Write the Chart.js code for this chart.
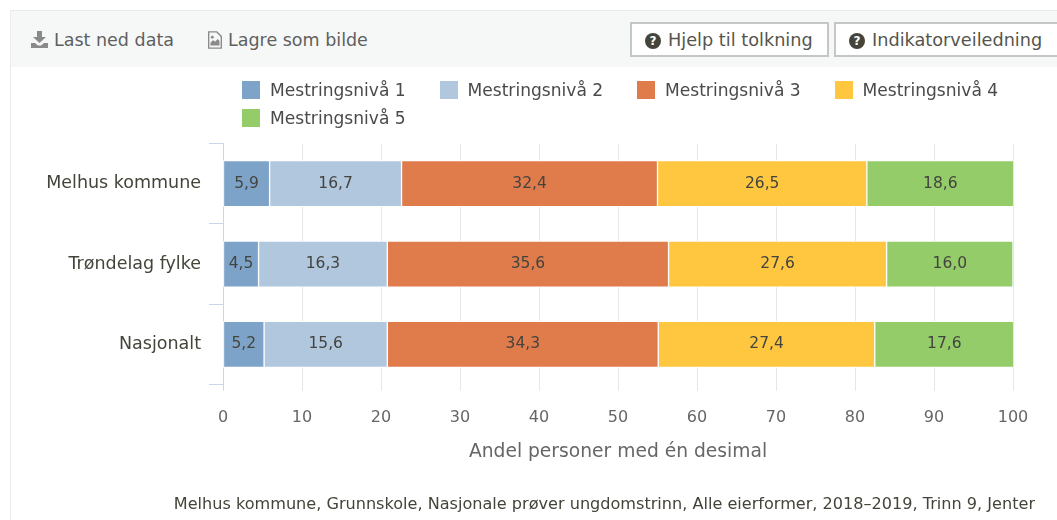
<!DOCTYPE html>
<html>
<head>
<meta charset="utf-8">
<script src="https://cdn.jsdelivr.net/npm/chart.js@4"></script>
<style>
  html, body { margin: 0; padding: 0; background: #fff; overflow: hidden; }
  body { width: 1057px; height: 520px; position: relative; font-family: "DejaVu Sans", sans-serif; }
  #panel { position: absolute; left: 10px; top: 10px; right: -2px; bottom: -2px; border: 1px solid #e9eceb; }
  #toolbar { position: absolute; left: 11px; top: 11px; width: 1046px; height: 56px; background: #f6f8f7; }
  .link { position: absolute; top: 19px; font-size: 17.500px; line-height: 20px; color: #5f5f5f; white-space: nowrap; }
  .link svg { position: absolute; top: 1px; }
  .btn { position: absolute; top: 11px; height: 35px; box-sizing: border-box; border: 2px solid #c3c7c5; background: #fff;
         font-size: 17.700px; line-height: 33px; color: #55554c; white-space: nowrap; }
  .q { position: absolute; left: 13px; top: 9px; width: 16px; height: 16px; border-radius: 50%; background: #44443a; color: #fff;
       font-size: 12px; font-weight: bold; line-height: 16px; text-align: center; }
  .btn span.t { position: absolute; left: 36px; top: 0; }
  #wrap { position: absolute; left: 25px; top: 67px; width: 1010px; height: 453px; }
  #legend { position: absolute; left: 242px; top: 76px; display: grid; grid-template-columns: repeat(4, 197.500px); grid-auto-rows: 28px; }
  #legend div { font-size: 17.100px; line-height: 28px; color: #4a4a4a; white-space: nowrap; position: relative; padding-left: 28px; }
  #legend i { position: absolute; left: 0; top: 5px; width: 18px; height: 18px; }
</style>
</head>
<body>
<div id="panel"></div>
<div id="toolbar">
  <div class="link" style="left:19px">
    <svg width="20" height="18" viewBox="0 0 20 18" style="left:0"><path fill="#8a8a8a" d="M7 0h5v6h4l-6.500 6L3 6h4zM1 12h4l3 2.500h3l3-2.500h4v5H1z"/></svg>
    <span style="margin-left:24px">Last ned data</span>
  </div>
  <div class="link" style="left:195px">
    <svg width="18" height="18" viewBox="0 0 18 20" style="left:0"><path fill="none" stroke="#8a8a8a" stroke-width="1.500" d="M2 1h9l5 5v13H2z"/><path fill="#8a8a8a" d="M4 16v-3l3-3 2 2 3-3 2 2v5z"/><circle cx="6" cy="7" r="1.600" fill="#8a8a8a"/></svg>
    <span style="margin-left:22px">Lagre som bilde</span>
  </div>
  <div class="btn" style="left:619px;width:199px"><div class="q">?</div><span class="t">Hjelp til tolkning</span></div>
  <div class="btn" style="left:823px;width:226px"><div class="q">?</div><span class="t">Indikatorveiledning</span></div>
</div>
<div id="wrap"><canvas id="chart"></canvas></div>
<div id="legend"></div>
<script>
const categories = ['Melhus kommune', 'Trøndelag fylke', 'Nasjonalt'];
const niva1 = [5.9, 4.5, 5.2];
const niva2 = [16.7, 16.3, 15.6];
const niva3 = [32.4, 35.6, 34.3];
const niva4 = [26.5, 27.6, 27.4];
const niva5 = [18.6, 16.0, 17.6];
const seriesNames = ['Mestringsnivå 1', 'Mestringsnivå 2', 'Mestringsnivå 3', 'Mestringsnivå 4', 'Mestringsnivå 5'];
const seriesValues = [niva1, niva2, niva3, niva4, niva5];
const colors = ['#7ea3c8', '#b0c7de', '#e07c4c', '#ffc740', '#93cc69'];
const xTicks = [0, 10, 20, 30, 40, 50, 60, 70, 80, 90, 100];
const xTitle = 'Andel personer med én desimal';
const footer = 'Melhus kommune, Grunnskole, Nasjonale prøver ungdomstrinn, Alle eierformer, 2018–2019, Trinn 9, Jenter';

const axisBlue = '#ccd6eb';

const barLabels = {
  id: 'barLabels',
  afterDatasetsDraw(chart) {
    const ctx = chart.ctx;
    ctx.save();
    ctx.font = '15.500px "DejaVu Sans"';
    ctx.fillStyle = '#44443f';
    ctx.textAlign = 'center';
    ctx.textBaseline = 'middle';
    chart.data.datasets.forEach((ds, i) => {
      chart.getDatasetMeta(i).data.forEach((bar, j) => {
        const mid = (bar.x + bar.base) / 2;
        ctx.fillText(ds.data[j].toFixed(1).replace('.', ','), mid, bar.y);
      });
    });
    ctx.restore();
  }
};

const chart = new Chart(document.getElementById('chart'), {
  type: 'bar',
  data: {
    labels: categories,
    datasets: seriesNames.map((name, i) => ({
      label: name,
      data: seriesValues[i],
      backgroundColor: colors[i],
      borderColor: '#ffffff',
      borderWidth: 1,
      borderSkipped: false,
      barThickness: 46
    }))
  },
  plugins: [barLabels],
  options: {
    indexAxis: 'y',
    responsive: true,
    maintainAspectRatio: false,
    animation: false,
    layout: { padding: { left: 0, right: 0, top: 76.500, bottom: 5.400 } },
    plugins: {
      tooltip: { enabled: false },
      legend: { display: false },
      title: {
        display: true,
        text: footer,
        position: 'bottom',
        align: 'end',
        color: '#44443a',
        font: { family: 'DejaVu Sans', size: 16.100, weight: 'normal' },
        padding: { top: 32, bottom: 0 }
      }
    },
    scales: {
      x: {
        stacked: true,
        min: 0,
        max: 100,
        afterBuildTicks(scale) {
          scale.ticks = xTicks.map(v => ({ value: v }));
        },
        // keep the plot end short of the canvas edge, the footer runs past it
        afterFit(scale) { scale.paddingRight = 22; },
        border: { display: false },
        grid: {
          color: ctx => (ctx.tick && ctx.tick.value === 0 ? axisBlue : '#e6e6e6'),
          tickLength: 6,
          lineWidth: 1
        },
        ticks: { color: '#666666', padding: 18, maxRotation: 0, font: { family: 'DejaVu Sans', size: 16 } },
        title: {
          display: true,
          text: xTitle,
          color: '#666666',
          font: { family: 'DejaVu Sans', size: 18.700 },
          // tick padding is counted twice in the scale height
          padding: { top: -5, bottom: 0 }
        }
      },
      y: {
        stacked: true,
        offset: true,
        afterFit(scale) { scale.width = 198; },
        border: { display: true, color: axisBlue },
        grid: { drawOnChartArea: false, color: axisBlue, tickLength: 14 },
        ticks: { color: '#44443a', padding: 8, font: { family: 'DejaVu Sans', size: 17.500 } }
      }
    }
  }
});

// legend has a wider column pitch than row pitch, chart.js uses one padding for both
const legendEl = document.getElementById('legend');
chart.data.datasets.forEach(ds => {
  const item = document.createElement('div');
  const box = document.createElement('i');
  box.style.background = ds.backgroundColor;
  item.appendChild(box);
  item.appendChild(document.createTextNode(ds.label));
  legendEl.appendChild(item);
});
</script>
</body>
</html>
